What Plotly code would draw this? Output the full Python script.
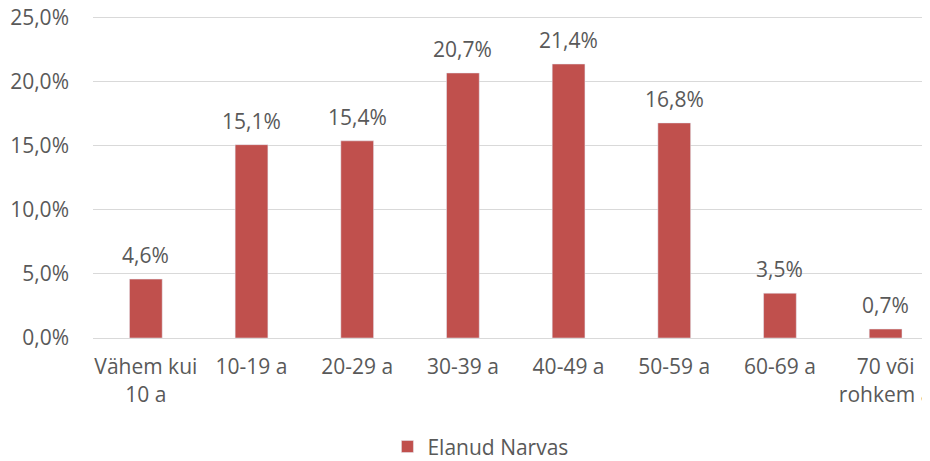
import plotly.graph_objects as go

categories = ["Vähem kui<br>10 a", "10-19 a", "20-29 a", "30-39 a",
              "40-49 a", "50-59 a", "60-69 a", "70 või<br>rohkem a"]
values = [4.6, 15.1, 15.4, 20.7, 21.4, 16.8, 3.5, 0.7]
series_name = "Elanud Narvas"
y_ticks = [0, 5, 10, 15, 20, 25]
y_ticktext = ["0,0%", "5,0%", "10,0%", "15,0%", "20,0%", "25,0%"]

grey = "#595959"
font_family = "Open Sans, Liberation Sans, sans-serif"
fsize = 21

fig = go.Figure()
fig.add_trace(
    go.Bar(
        x=categories,
        y=values,
        name=series_name,
        marker=dict(color="#C0504D"),
        width=0.31,
        showlegend=True,
    )
)

# data labels above bars
for c, v in zip(categories, values):
    fig.add_annotation(
        x=c, y=v, text=f"{v:.1f}%".replace(".", ","),
        showarrow=False, yanchor="bottom", yshift=8,
        font=dict(size=fsize, color=grey),
    )

# page body has an 8px margin, so margins are shifted by 8
fig.update_layout(
    width=930,
    height=461,
    margin=dict(l=85, r=8, t=8, b=131, autoexpand=False),
    plot_bgcolor="white",
    paper_bgcolor="white",
    font=dict(family=font_family, size=fsize, color=grey),
    xaxis=dict(
        range=[-0.5, 7.42],
        automargin=False,
        showgrid=False,
        showline=True,
        linecolor="#D9D9D9",
        ticks="",
        ticklabelstandoff=10,
        tickfont=dict(size=fsize, color=grey),
    ),
    yaxis=dict(
        range=[0, 25.15],
        tickvals=y_ticks,
        ticktext=y_ticktext,
        automargin=False,
        showgrid=True,
        gridcolor="#D9D9D9",
        zeroline=False,
        ticks="",
        ticklabelstandoff=23,
        ticklabeloverflow="allow",
        tickfont=dict(size=fsize, color=grey),
    ),
    legend=dict(
        orientation="h",
        xref="container",
        yref="container",
        x=0.508,
        y=0.048,
        xanchor="center",
        yanchor="middle",
        font=dict(size=fsize, color=grey),
    ),
)

fig.write_html("out.html")
